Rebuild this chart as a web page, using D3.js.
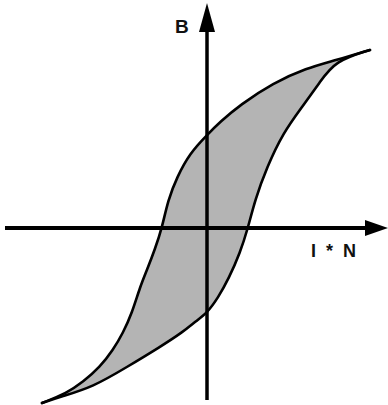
<!DOCTYPE html>
<html>
<head>
<meta charset="utf-8">
<script src="https://cdn.jsdelivr.net/npm/d3@7"></script>
<style>
  html, body { margin: 0; padding: 0; background: #fff; }
  svg { display: block; }
  text { font-family: "Liberation Sans", Arial, sans-serif; font-weight: bold; fill: #111; }
</style>
</head>
<body>
<svg id="chart" width="388" height="405"></svg>
<script>
// magnetising force H = I*N (arbitrary units) and flux density B
const upperH = [-8.25, -7.0, -6.2, -5.35, -4.7, -4.2, -3.75, -3.35, -3.0, -2.6, -2.25, -1.95, -1.5, -0.85, 0, 0.65, 1.65, 3.3, 5.0, 6.3, 8.15];
const upperB = [-8.75, -8.25, -7.7, -6.95, -6.1, -5.25, -4.25, -2.95, -2.1, -1.05, 0, 1.4, 2.55, 3.75, 4.65, 5.3, 6.15, 7.25, 8.0, 8.35, 8.9];

const lowerH = [-8.25, -7.35, -5.7, -4.0, -2.35, -1.2, -0.55, 0, 0.55, 1.1, 1.65, 2.05, 2.4, 3.0, 3.8, 4.75, 5.65, 6.4, 8.15];
const lowerB = [-8.75, -8.45, -7.95, -6.95, -5.95, -5.2, -4.65, -4.25, -3.5, -2.5, -1.25, 0, 1.4, 3.05, 4.75, 6.05, 7.3, 8.35, 8.9];

const xLabel = "I * N";
const yLabel = "B";

const svg = d3.select("#chart");

const x = d3.scaleLinear().domain([-10.1, 9.05]).range([5, 388]);
const y = d3.scaleLinear().domain([-8.6, 11.15]).range([400, 5]);

const upper = upperH.map((h, i) => [h, upperB[i]]);
const lower = lowerH.map((h, i) => [h, lowerB[i]]);

const line = d3.line()
  .x((d) => x(d[0]))
  .y((d) => y(d[1]))
  .curve(d3.curveBasis);

// shaded loop: upper branch out, lower branch back
svg.append("path")
  .attr("d", line(upper) + "L" + line(lower.slice().reverse()).slice(1) + "Z")
  .attr("fill", "#b4b4b4")
  .attr("stroke", "none");

// axes
const x0 = x(0), y0 = y(0);
const [xl, xr] = x.range();
const [yb, yt] = y.range();

svg.append("line")
  .attr("x1", xl).attr("x2", xr - 20)
  .attr("y1", y0).attr("y2", y0)
  .attr("stroke", "#000").attr("stroke-width", 3.8);

svg.append("line")
  .attr("x1", x0).attr("x2", x0)
  .attr("y1", yb).attr("y2", yt + 20)
  .attr("stroke", "#000").attr("stroke-width", 3.5);

svg.append("path")
  .attr("d", `M${xr},${y0} L${xr - 23},${y0 - 8} L${xr - 23},${y0 + 8} Z`)
  .attr("fill", "#000");

svg.append("path")
  .attr("d", `M${x0},${yt - 2} L${x0 - 8},${yt + 27} L${x0 + 8},${yt + 27} Z`)
  .attr("fill", "#000");

// loop outlines
[upper, lower].forEach((branch) => {
  svg.append("path")
    .attr("d", line(branch))
    .attr("fill", "none")
    .attr("stroke", "#000")
    .attr("stroke-width", 2.6)
    .attr("stroke-linecap", "round");
});

// labels
svg.append("text")
  .attr("x", x0 - 32)
  .attr("y", yt + 28)
  .attr("font-size", 19)
  .text(yLabel);

svg.append("text")
  .attr("x", x(5.2))
  .attr("y", y0 + 29)
  .attr("font-size", 18)
  .attr("word-spacing", 5)
  .text(xLabel);
</script>
</body>
</html>
